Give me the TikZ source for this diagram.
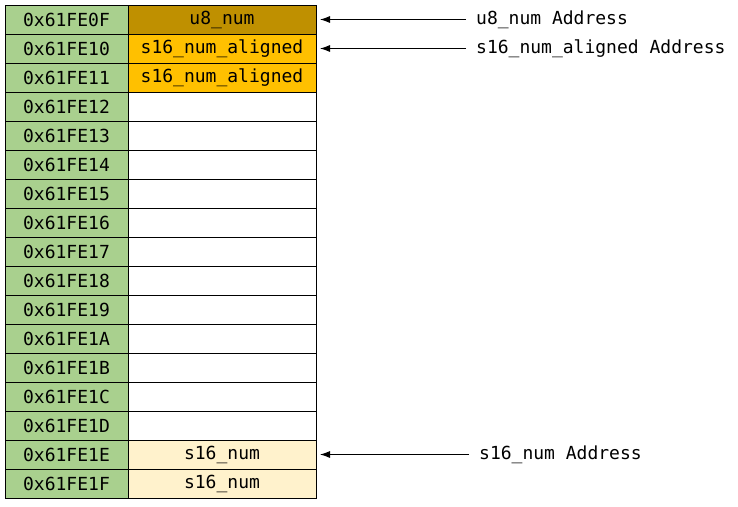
\documentclass[tikz,border=0pt]{standalone}
\usepackage{fontspec}
\setmonofont{DejaVu Sans Mono}
\usetikzlibrary{positioning,arrows.meta}
\definecolor{addrgreen}{HTML}{A9D08E}
\definecolor{ugold}{HTML}{BF9000}
\definecolor{sgold}{HTML}{FFC000}
\definecolor{spale}{HTML}{FFF2CC}

\begin{document}
\begin{tikzpicture}[x=1pt,y=-1pt,
  every node/.style={font=\ttfamily\fontsize{18}{18}\selectfont},
  addr/.style={draw, fill=addrgreen, minimum width=123pt, minimum height=29pt,
    inner sep=0pt, outer sep=0pt, line width=0.9pt},
  cell/.style={draw, minimum width=188pt, minimum height=29pt,
    inner sep=0pt, outer sep=0pt, line width=0.9pt},
  lbl/.style={inner sep=0pt},
  ptr/.style={-{Latex[length=10pt,width=7pt]}, line width=0.9pt}]
\useasboundingbox (0,0) rectangle (738,506);
\foreach \a/\t/\f [count=\i] in {0F/u8\_num/ugold, 10/s16\_num\_aligned/sgold,
    11/s16\_num\_aligned/sgold, 12//white, 13//white, 14//white, 15//white,
    16//white, 17//white, 18//white, 19//white, 1A//white, 1B//white,
    1C//white, 1D//white, 1E/s16\_num/spale, 1F/s16\_num/spale} {
  \node[addr, anchor=north west] (a\i) at (5,{5+29*(\i-1)}) {0x61FE\a};
  \node[cell, fill=\f, right=0pt of a\i] (c\i) {\t};
}
% pointers
\node[lbl, right=160pt of c1] (l1) {u8\_num Address};
\node[lbl, right=160pt of c2] (l2) {s16\_num\_aligned Address};
\node[lbl, right=163pt of c16] (l16) {s16\_num Address};
\draw[ptr] ([xshift=-10pt]c1.east -| l1.west) -- ([xshift=4pt]c1.east);
\draw[ptr] ([xshift=-10pt]c2.east -| l2.west) -- ([xshift=4pt]c2.east);
\draw[ptr] ([xshift=-10pt]c16.east -| l16.west) -- ([xshift=4pt]c16.east);
\end{tikzpicture}
\end{document}
